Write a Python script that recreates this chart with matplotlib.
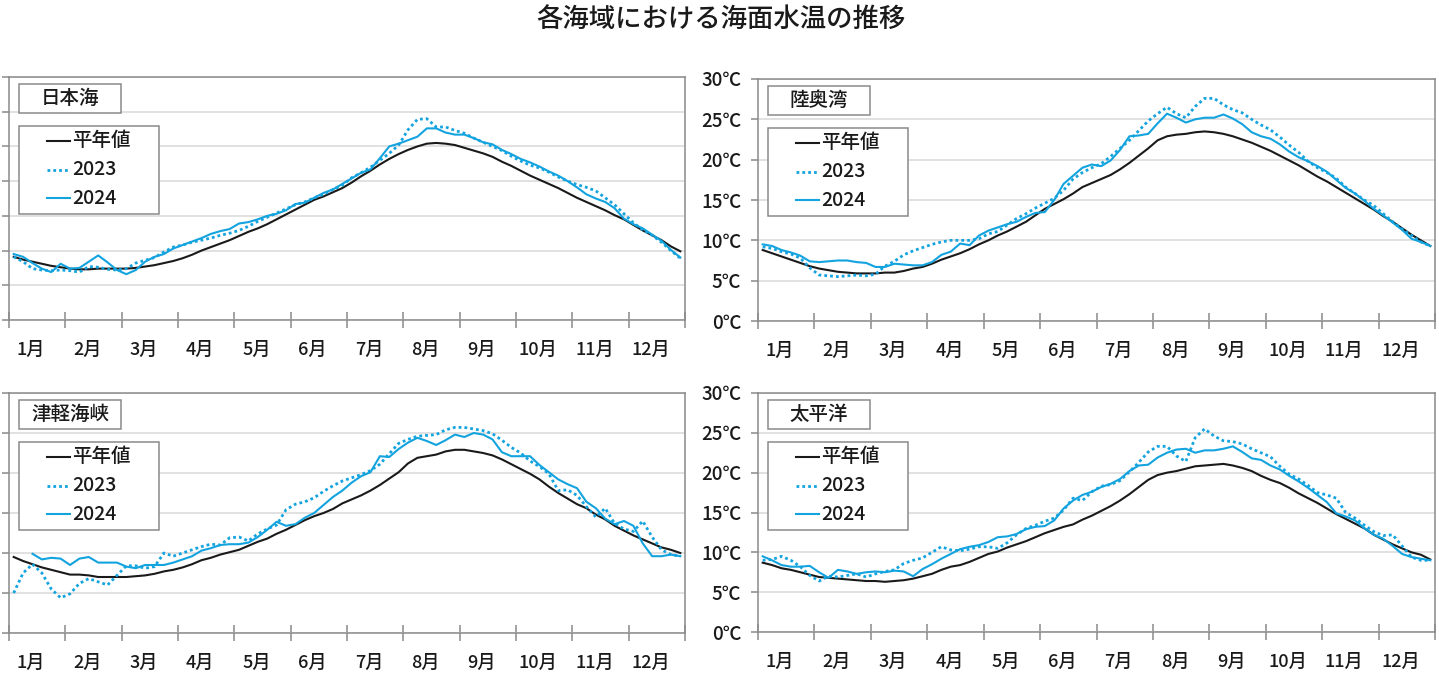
import matplotlib
matplotlib.use('Agg')
import matplotlib.pyplot as plt
import numpy as np
from matplotlib.patches import Rectangle
from matplotlib.lines import Line2D

plt.rcParams['font.family'] = ['Noto Sans CJK JP', 'DejaVu Sans']
plt.rcParams['font.weight'] = 'medium'

months = ['1月', '2月', '3月', '4月', '5月', '6月', '7月', '8月', '9月', '10月', '11月', '12月']
series_names = ['平年値', '2023', '2024']

# 半旬（5日）ごとの海面水温 [℃]
nihonkai_avg = [9.1, 8.7, 8.4, 8.1, 7.8, 7.6, 7.4, 7.3, 7.3, 7.4, 7.4, 7.4,
                7.4, 7.5, 7.7, 7.9, 8.2, 8.5, 8.9, 9.4, 10.0, 10.5, 11.0, 11.5,
                12.1, 12.7, 13.2, 13.8, 14.5, 15.2, 15.9, 16.6, 17.3, 17.8, 18.4, 19.0,
                19.8, 20.7, 21.5, 22.4, 23.2, 23.9, 24.5, 25.0, 25.4, 25.5, 25.4, 25.2,
                24.8, 24.4, 24.0, 23.5, 22.8, 22.2, 21.5, 20.8, 20.2, 19.6, 19.0, 18.3,
                17.6, 17.0, 16.4, 15.8, 15.1, 14.5, 13.7, 12.9, 12.2, 11.5, 10.6, 9.9]
nihonkai_2023 = [9.1, 8.4, 7.4, 7.2, 7.1, 7.2, 7.1, 6.9, 7.7, 7.6, 7.3, 7.2,
                 7.4, 8.2, 8.6, 9.0, 9.8, 10.5, 10.8, 11.2, 11.5, 11.8, 12.2, 12.5,
                 12.9, 13.5, 14.2, 14.8, 15.4, 16.0, 16.6, 17.0, 17.6, 18.1, 18.8, 19.4,
                 20.5, 21.2, 22.0, 23.0, 24.0, 25.2, 27.4, 28.9, 29.0, 27.8, 27.8, 27.3,
                 26.9, 26.2, 25.6, 25.0, 24.4, 23.6, 22.9, 22.3, 21.9, 21.3, 20.6, 20.0,
                 19.5, 19.1, 18.6, 17.6, 16.6, 15.3, 14.0, 13.0, 12.2, 11.2, 10.0, 8.9]
nihonkai_2024 = [9.5, 9.1, 8.2, 7.4, 6.9, 8.1, 7.4, 7.5, 8.4, 9.3, 8.3, 7.2,
                 6.6, 7.2, 8.4, 9.1, 9.5, 10.3, 10.8, 11.3, 11.8, 12.4, 12.8, 13.1,
                 13.9, 14.1, 14.5, 15.0, 15.3, 15.8, 16.7, 16.9, 17.6, 18.3, 18.8, 19.6,
                 20.4, 21.2, 21.7, 23.3, 25.0, 25.4, 25.9, 26.4, 27.6, 27.6, 27.0, 26.7,
                 26.7, 26.2, 25.6, 25.3, 24.5, 23.9, 23.2, 22.7, 22.1, 21.4, 20.8, 20.0,
                 19.1, 18.1, 17.5, 17.0, 16.1, 14.6, 13.8, 13.2, 12.3, 11.4, 10.1, 9.0]

mutsu_avg = [8.8, 8.4, 8.0, 7.6, 7.2, 6.8, 6.5, 6.3, 6.1, 6.0, 5.9, 5.9,
             5.9, 6.0, 6.0, 6.2, 6.5, 6.7, 7.1, 7.6, 8.0, 8.4, 8.9, 9.5,
             10.0, 10.6, 11.1, 11.7, 12.3, 13.1, 13.9, 14.5, 15.1, 15.8, 16.6, 17.1,
             17.6, 18.1, 18.8, 19.6, 20.5, 21.4, 22.4, 22.9, 23.1, 23.2, 23.4, 23.5,
             23.4, 23.2, 22.9, 22.5, 22.1, 21.6, 21.1, 20.5, 19.9, 19.3, 18.6, 17.9,
             17.3, 16.6, 15.9, 15.2, 14.5, 13.8, 13.0, 12.3, 11.5, 10.7, 10.0, 9.3]
mutsu_2023 = [9.2, 9.0, 8.6, 8.3, 7.8, 6.6, 5.7, 5.6, 5.5, 5.6, 5.7, 5.6,
              5.8, 6.8, 7.4, 8.2, 8.7, 9.1, 9.5, 9.8, 10.0, 10.0, 10.0, 10.2,
              10.8, 11.1, 11.9, 12.7, 13.3, 14.0, 14.6, 15.2, 16.2, 17.6, 18.4, 19.0,
              19.5, 20.4, 21.4, 22.4, 23.6, 24.8, 25.7, 26.5, 25.7, 25.2, 26.6, 27.6,
              27.6, 26.8, 26.2, 25.8, 25.0, 24.3, 23.7, 22.8, 21.8, 20.9, 19.8, 19.0,
              18.4, 17.7, 16.6, 15.8, 15.0, 14.3, 13.3, 12.3, 11.4, 10.6, 9.8, 9.3]
mutsu_2024 = [9.5, 9.3, 8.8, 8.5, 8.1, 7.4, 7.3, 7.4, 7.5, 7.5, 7.3, 7.2,
              6.7, 6.7, 7.1, 7.0, 6.9, 6.9, 7.3, 8.2, 8.6, 9.6, 9.4, 10.6,
              11.2, 11.6, 12.0, 12.3, 12.9, 13.4, 13.5, 15.0, 17.0, 18.0, 19.0, 19.4,
              19.2, 19.9, 21.2, 22.9, 23.0, 23.2, 24.5, 25.7, 25.2, 24.6, 25.0, 25.2,
              25.2, 25.6, 25.1, 24.4, 23.4, 22.9, 22.6, 21.9, 21.0, 20.3, 19.8, 19.2,
              18.5, 17.5, 16.5, 15.8, 14.9, 13.9, 13.1, 12.2, 11.3, 10.2, 9.8, 9.3]

tsugaru_avg = [9.5, 9.0, 8.6, 8.2, 7.9, 7.6, 7.3, 7.3, 7.2, 7.0, 7.0, 7.0,
               7.0, 7.1, 7.2, 7.4, 7.7, 7.9, 8.2, 8.6, 9.1, 9.4, 9.8, 10.1,
               10.4, 10.9, 11.4, 11.8, 12.4, 12.9, 13.5, 14.1, 14.6, 15.0, 15.5, 16.2,
               16.7, 17.2, 17.8, 18.5, 19.3, 20.1, 21.2, 21.9, 22.1, 22.3, 22.7, 22.9,
               22.9, 22.7, 22.5, 22.2, 21.7, 21.1, 20.5, 19.9, 19.2, 18.3, 17.5, 16.8,
               16.1, 15.6, 14.8, 14.2, 13.4, 12.8, 12.2, 11.7, 11.2, 10.7, 10.4, 10.0]
tsugaru_2023 = [5.0, 7.5, 8.6, 7.5, 5.5, 4.4, 4.9, 6.2, 6.8, 6.4, 6.0, 7.2,
                8.4, 8.4, 8.1, 8.3, 10.0, 9.6, 10.0, 10.4, 10.8, 11.1, 11.0, 11.9,
                12.0, 11.5, 12.4, 13.0, 13.5, 15.4, 16.1, 16.4, 16.9, 17.7, 18.4, 19.0,
                19.4, 19.8, 20.3, 21.1, 22.4, 23.7, 24.2, 24.6, 24.7, 24.8, 25.4, 25.7,
                25.7, 25.5, 25.3, 24.9, 24.1, 23.2, 22.5, 21.5, 20.8, 19.9, 17.8, 17.9,
                17.2, 15.8, 14.5, 15.6, 13.7, 13.0, 12.7, 14.0, 12.0, 10.4, 9.8, 9.6]
tsugaru_2024 = [np.nan, np.nan, 9.9, 9.2, 9.4, 9.3, 8.5, 9.3, 9.5, 8.8, 8.8, 8.8,
                8.3, 8.1, 8.5, 8.5, 8.5, 8.8, 9.2, 9.6, 10.3, 10.6, 11.0, 11.1,
                11.1, 11.3, 12.0, 12.9, 13.9, 13.4, 13.6, 14.4, 15.0, 16.0, 17.0, 17.8,
                18.8, 19.6, 20.1, 22.1, 22.0, 23.0, 23.8, 24.4, 24.0, 23.5, 24.1, 24.8,
                24.5, 25.0, 24.8, 24.2, 22.6, 22.1, 22.1, 22.1, 21.0, 20.1, 19.2, 18.6,
                18.1, 16.4, 15.6, 14.3, 13.6, 14.0, 13.4, 11.2, 9.6, 9.6, 9.8, 9.6]

taiheiyo_avg = [8.7, 8.4, 8.0, 7.8, 7.5, 7.2, 6.9, 6.8, 6.7, 6.6, 6.5, 6.4,
                6.4, 6.3, 6.4, 6.5, 6.7, 7.0, 7.3, 7.8, 8.2, 8.4, 8.8, 9.3,
                9.8, 10.1, 10.6, 11.0, 11.4, 11.9, 12.4, 12.8, 13.2, 13.5, 14.1, 14.6,
                15.2, 15.8, 16.5, 17.3, 18.2, 19.1, 19.7, 20.0, 20.2, 20.5, 20.8, 20.9,
                21.0, 21.1, 20.9, 20.6, 20.2, 19.6, 19.1, 18.7, 18.1, 17.4, 16.8, 16.2,
                15.5, 14.8, 14.2, 13.6, 13.0, 12.2, 11.6, 11.0, 10.5, 10.0, 9.7, 9.1]
taiheiyo_2023 = [9.0, 9.1, 9.5, 9.0, 8.2, 7.1, 6.4, 7.0, 6.9, 7.1, 7.3, 6.9,
                 7.3, 7.6, 7.8, 8.6, 9.0, 9.3, 10.0, 10.7, 10.3, 10.2, 10.4, 10.7,
                 10.7, 10.5, 11.2, 12.2, 13.0, 13.4, 13.9, 14.3, 15.3, 16.8, 16.5, 17.6,
                 18.3, 18.5, 19.0, 20.1, 21.3, 22.6, 23.3, 23.3, 22.1, 21.4, 24.4, 25.5,
                 24.6, 24.0, 23.9, 23.6, 23.0, 22.5, 22.0, 20.8, 19.8, 19.2, 18.4, 17.5,
                 17.2, 16.8, 15.0, 14.3, 13.4, 12.6, 12.1, 12.2, 10.8, 9.4, 9.0, 9.0]
taiheiyo_2024 = [9.5, 9.0, 8.4, 8.2, 8.2, 8.3, 7.5, 6.8, 7.8, 7.6, 7.3, 7.5,
                 7.6, 7.5, 7.7, 7.6, 7.0, 7.9, 8.5, 9.2, 9.8, 10.4, 10.7, 10.9,
                 11.3, 11.9, 12.0, 12.3, 12.9, 13.2, 13.3, 14.0, 15.5, 16.5, 17.2, 17.6,
                 18.2, 18.6, 19.2, 20.2, 20.9, 21.0, 21.9, 22.5, 22.9, 23.0, 22.5, 22.8,
                 22.8, 23.0, 23.3, 22.6, 21.8, 21.6, 20.9, 20.4, 19.6, 18.9, 18.1, 17.2,
                 16.3, 14.9, 14.5, 14.0, 13.0, 12.2, 11.7, 10.8, 9.8, 9.4, 9.2, 9.0]

W, H = 1439, 674
fig = plt.figure(figsize=(W / 100, H / 100), dpi=100)

BLUE = '#13a3df'
GRAY = '#8a8a8a'
TXT = '#1a1a1a'

# (名前, 左, 上, 右, 下 [px], y上限, y目盛ラベル, データ)
panels = [
    ('日本海', 9, 77, 685, 320, 35, False, nihonkai_avg, nihonkai_2023, nihonkai_2024),
    ('陸奥湾', 758, 79, 1435, 321, 30, True, mutsu_avg, mutsu_2023, mutsu_2024),
    ('津軽海峡', 9, 393, 685, 633, 30, False, tsugaru_avg, tsugaru_2023, tsugaru_2024),
    ('太平洋', 758, 393, 1435, 632, 30, True, taiheiyo_avg, taiheiyo_2023, taiheiyo_2024),
]

x = (np.arange(72) + 0.5) / 6

for name, l, t, r, b, ytop, ylab, avg, y23, y24 in panels:
    ax = fig.add_axes([l / W, 1 - b / H, (r - l) / W, (b - t) / H])
    ax.set_xlim(0, 12)
    ax.set_ylim(0, ytop)
    ax.plot(x, avg, color=TXT, lw=1.5, zorder=3)
    ax.plot(x, y23, color=BLUE, lw=2.0, linestyle=(0, (1, 1.1)), zorder=4)
    ax.plot(x, y24, color=BLUE, lw=1.5, zorder=5)

    yt = np.arange(0, ytop + 1, 5)
    ax.set_yticks(yt)
    if ylab:
        ax.set_yticklabels([f'{v}℃' for v in yt], fontsize=13.5, color=TXT)
    else:
        ax.set_yticklabels([])
    ax.grid(axis='y', color='#dedede', lw=1.3)
    ax.set_axisbelow(True)
    ax.tick_params(axis='y', direction='out', length=5, width=1.1, color=GRAY, pad=7)

    ax.set_xticks(np.arange(13))
    ax.set_xticklabels([])
    ax.set_xticks(np.arange(12) + 0.39, minor=True)
    ax.set_xticklabels(months, minor=True, fontsize=13, color=TXT)
    ax.tick_params(axis='x', which='major', direction='inout', length=12, width=1.1, color=GRAY)
    ax.tick_params(axis='x', which='minor', length=0, pad=15)
    for s in ax.spines.values():
        s.set_color(GRAY)
        s.set_linewidth(1.1)

    # 海域名の枠と凡例の枠（軸の左上からのピクセル位置）
    aw, ah = r - l, b - t
    def fx(px):
        return px / aw
    def fy(py):
        return 1 - py / ah
    ax.add_patch(Rectangle((fx(10), fy(36)), fx(102), 29 / ah, transform=ax.transAxes,
                           facecolor='white', edgecolor=GRAY, lw=1.1, zorder=6))
    ax.text(fx(61), fy(21.5), name, transform=ax.transAxes, ha='center', va='center',
            fontsize=14, color=TXT, zorder=7)
    ax.add_patch(Rectangle((fx(10), fy(137)), fx(140), 88 / ah, transform=ax.transAxes,
                           facecolor='white', edgecolor=GRAY, lw=1.1, zorder=6))
    styles = [dict(color=TXT, lw=1.5), dict(color=BLUE, lw=2.0, linestyle=(0, (1, 1.1))),
              dict(color=BLUE, lw=1.5)]
    for k, (lab, st) in enumerate(zip(series_names, styles)):
        yy = fy(64 + 28.5 * k)
        ax.add_line(Line2D([fx(38), fx(61)], [yy, yy], transform=ax.transAxes, zorder=7, **st))
        ax.text(fx(63), yy, lab, transform=ax.transAxes, ha='left', va='center',
                fontsize=14, color=TXT, zorder=7)

fig.text(721 / W, 1 - 19 / H, '各海域における海面水温の推移', ha='center', va='center',
         fontsize=19, color=TXT)

fig.savefig('out.png', dpi=100)
